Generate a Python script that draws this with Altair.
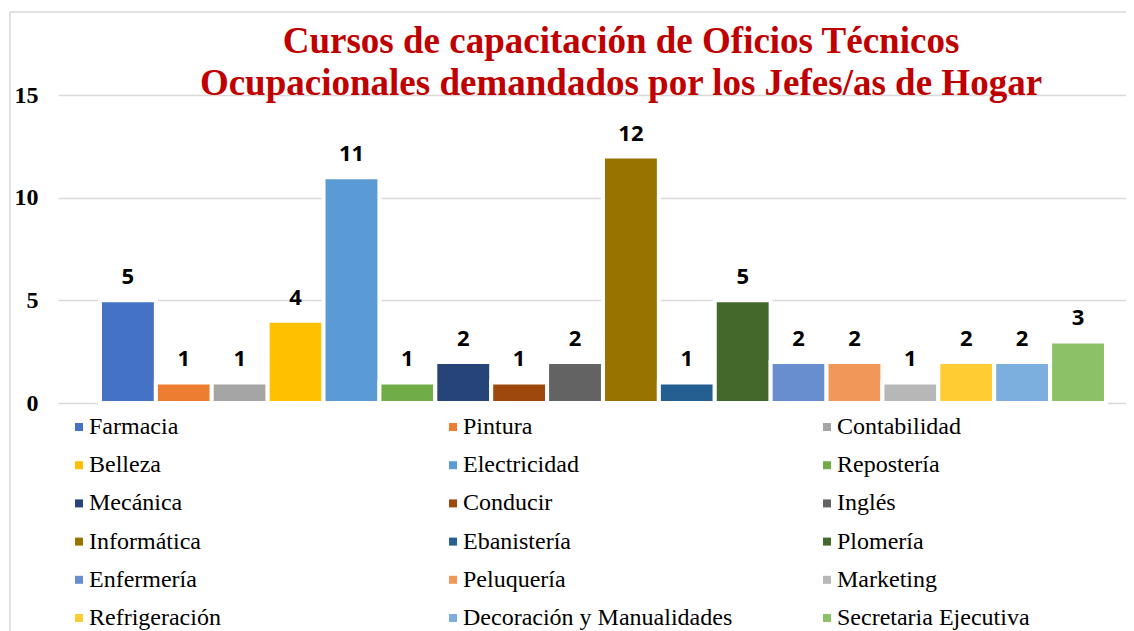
import altair as alt
import pandas as pd

cursos = ["Farmacia", "Pintura", "Contabilidad", "Belleza", "Electricidad", "Repostería",
          "Mecánica", "Conducir", "Inglés", "Informática", "Ebanistería", "Plomería",
          "Enfermería", "Peluquería", "Marketing", "Refrigeración",
          "Decoración y Manualidades", "Secretaria Ejecutiva"]
valores = [5, 1, 1, 4, 11, 1, 2, 1, 2, 12, 1, 5, 2, 2, 1, 2, 2, 3]
colores = ["#4472C4", "#ED7D31", "#A5A5A5", "#FFC000", "#5B9BD5", "#70AD47",
           "#264478", "#9E480E", "#636363", "#997300", "#255E91", "#43682B",
           "#698ED0", "#F1975A", "#B7B7B7", "#FFCD33", "#7CAFDD", "#8CC168"]
titulo = ["Cursos de capacitación de Oficios Técnicos",
          "Ocupacionales demandados por los Jefes/as de Hogar"]
ticks_y = [0, 5, 10, 15]

df = pd.DataFrame({"curso": cursos, "valor": valores})

W, H = 1068, 308

xenc = alt.X("curso:N", sort=cursos, axis=None,
             scale=alt.Scale(paddingInner=0, paddingOuter=0.5546, align=0.677))
yenc = alt.Y("valor:Q", scale=alt.Scale(domain=[0, 15], nice=False),
             axis=alt.Axis(values=ticks_y, title=None, grid=True, gridColor="#D9D9D9",
                           gridWidth=1.3, domain=False, ticks=False, tickSize=0,
                           labelFont="Liberation Serif", labelFontSize=24,
                           labelFontWeight="bold", labelColor="black", labelPadding=20))

base = alt.Chart(df)

bars = base.mark_bar(stroke="white", strokeWidth=4).encode(
    x=xenc,
    y=yenc,
    color=alt.Color("curso:N", sort=cursos,
                    scale=alt.Scale(domain=cursos, range=colores),
                    legend=alt.Legend(orient="none", legendX=9, legendY=320, title=None,
                                      direction="horizontal",
                                      columns=3, gridAlign="all", columnPadding=82,
                                      rowPadding=14.2, labelFont="Liberation Serif",
                                      labelFontSize=24, labelColor="black",
                                      labelLimit=400, labelOffset={"expr": "-2"},
                                      symbolType="square",
                                      symbolSize=64, symbolStrokeWidth=0, padding=0)),
)

labels = base.mark_text(dy=-16, baseline="alphabetic", font="Open Sans", fontSize=22,
                        fontWeight="bold", color="black").encode(
    x=xenc,
    y=alt.Y("valor:Q"),
    text="valor:Q",
)

one = alt.Data(values=[{"k": 1}])
border_v = alt.Chart(one).mark_rule(color="#D9D9D9", strokeWidth=1.5).encode(
    x=alt.value(-48), y=alt.value(-83), y2=alt.value(H + 228))
border_h = alt.Chart(one).mark_rule(color="#D9D9D9", strokeWidth=1.5).encode(
    x=alt.value(-48), x2=alt.value(1076), y=alt.value(-83))

chart = alt.layer(border_v, border_h, bars, labels).properties(
    width=W, height=H,
    autosize=alt.AutoSizeParams(type="none"),
    padding={"left": 50, "top": 87, "right": 0, "bottom": 228},
    title=alt.Title(text=titulo, font="Liberation Serif", fontSize=37, fontWeight="bold",
                    color="#C00000", lineHeight=42, anchor="middle", dx=29, offset=-92),
).configure_view(stroke="transparent")

chart.save("out.html", embed_options={"renderer": "svg", "actions": False})
